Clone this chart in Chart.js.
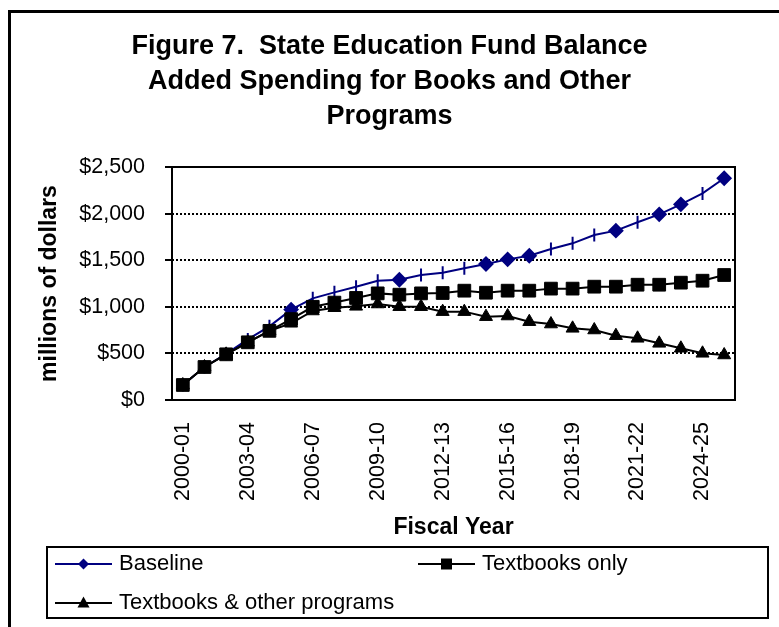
<!DOCTYPE html>
<html lang="en">
  <head>
    <meta charset="UTF-8" />
    <script src="https://cdn.jsdelivr.net/npm/chart.js@4.4.0/dist/chart.umd.min.js"></script>
    <title>Figure 7</title>
    <style>
      body { margin: 0; background: #fff; overflow: hidden; }
      #frame { position: absolute; left: 8px; top: 10px; width: 900px; height: 800px;
               border: 3px solid #000; }
      #c { position: absolute; left: 0; top: 0; }
    </style>
  </head>
  <body>
    <div id="frame"></div>
    <canvas id="c" width="779" height="627"></canvas>

    <script>
      // data (millions of dollars)
      var fiscalYears = [
        "2000-01", "2001-02", "2002-03", "2003-04", "2004-05", "2005-06", "2006-07",
        "2007-08", "2008-09", "2009-10", "2010-11", "2011-12", "2012-13", "2013-14",
        "2014-15", "2015-16", "2016-17", "2017-18", "2018-19", "2019-20", "2020-21",
        "2021-22", "2022-23", "2023-24", "2024-25", "2025-26"
      ];
      var baseline = [161, 354, 495, 650, 790, 970, 1091, 1155, 1216, 1280, 1290, 1341, 1365,
        1413, 1459, 1509, 1548, 1620, 1681, 1770, 1817, 1907, 1992, 2099, 2217, 2379];
      var textbooksOnly = [161, 354, 490, 619, 742, 868, 1000, 1045, 1095, 1144, 1130, 1144, 1148,
        1173, 1151, 1173, 1173, 1195, 1195, 1216, 1216, 1237, 1237, 1259, 1280, 1341];
      var textbooksOther = [161, 354, 490, 619, 742, 823, 955, 990, 1005, 1030, 1001, 1001, 948,
        948, 894, 901, 840, 815, 769, 751, 690, 662, 608, 555, 501, 483];
      var yTicks = [0, 500, 1000, 1500, 2000, 2500];
      var labelEvery = 3;

      // baseline markers: diamonds on some years, a small tick on the rest
      var diamondAt = [5, 10, 14, 15, 16, 20, 22, 23, 25];
      var baseStyle = fiscalYears.map(function (y, i) { return diamondAt.indexOf(i) >= 0 ? "rectRot" : "line"; });
      var baseRot = fiscalYears.map(function (y, i) { return diamondAt.indexOf(i) >= 0 ? 0 : 90; });

      Chart.defaults.font.family = "Arial, 'Liberation Sans', sans-serif";
      Chart.defaults.color = "#000";

      var plotBox = {
        id: "plotBox",
        beforeDatasetsDraw: function (chart) {
          var a = chart.chartArea, ctx = chart.ctx;
          ctx.save();
          ctx.strokeStyle = "#000";
          ctx.lineWidth = 2;
          ctx.strokeRect(a.left, a.top, a.right - a.left, a.bottom - a.top);
          ctx.restore();
        }
      };

      // legend drawn by hand: line + marker + name, two per row, framed
      var legendSlots = [[55, 564], [418, 564], [55, 603]];
      function mark(ctx, kind, x, y) {
        ctx.beginPath();
        if (kind == "diamond") {
          ctx.moveTo(x, y - 5.5); ctx.lineTo(x + 5.5, y); ctx.lineTo(x, y + 5.5); ctx.lineTo(x - 5.5, y);
        } else if (kind == "square") {
          ctx.rect(x - 5.5, y - 5.5, 11, 11);
        } else {
          ctx.moveTo(x, y - 6.5); ctx.lineTo(x + 6, y + 4.5); ctx.lineTo(x - 6, y + 4.5);
        }
        ctx.closePath();
        ctx.fill();
      }
      var boxLegend = {
        id: "boxLegend",
        afterDraw: function (chart) {
          var ctx = chart.ctx;
          ctx.save();
          ctx.strokeStyle = "#000";
          ctx.lineWidth = 2;
          ctx.strokeRect(47, 547, 721, 71);
          chart.data.datasets.forEach(function (ds, i) {
            var x = legendSlots[i][0], y = legendSlots[i][1];
            ctx.strokeStyle = ds.borderColor;
            ctx.fillStyle = ds.borderColor;
            ctx.lineWidth = 2;
            ctx.beginPath();
            ctx.moveTo(x, y); ctx.lineTo(x + 57, y);
            ctx.stroke();
            mark(ctx, ds.legendMark, x + 28.5, y);
            ctx.fillStyle = "#000";
            ctx.font = "22px Arial, 'Liberation Sans', sans-serif";
            ctx.textBaseline = "middle";
            ctx.fillText(ds.label, x + 64, y);
          });
          ctx.restore();
        }
      };

      new Chart("c", {
        type: "line",
        data: {
          labels: fiscalYears,
          datasets: [
            {
              label: "Baseline",
              legendMark: "diamond",
              data: baseline,
              borderColor: "#000080",
              backgroundColor: "#000080",
              borderWidth: 2,
              pointStyle: baseStyle,
              pointRotation: baseRot,
              pointRadius: 6.5,
              pointBorderWidth: 2,
              order: 2
            },
            {
              label: "Textbooks only",
              legendMark: "square",
              data: textbooksOnly,
              borderColor: "#000",
              backgroundColor: "#000",
              borderWidth: 2,
              pointStyle: "rect",
              pointRadius: 9,
              pointBorderWidth: 1,
              order: 0
            },
            {
              label: "Textbooks & other programs",
              legendMark: "triangle",
              data: textbooksOther,
              borderColor: "#000",
              backgroundColor: "#000",
              borderWidth: 2,
              pointStyle: "triangle",
              pointRadius: 7.5,
              pointBorderWidth: 1,
              order: 1
            }
          ]
        },
        options: {
          responsive: false,
          animation: false,
          layout: { padding: { left: 0, right: 0, top: 0, bottom: 80 } },
          plugins: {
            legend: { display: false },
            tooltip: { enabled: false },
            title: {
              display: true,
              text: ["Figure 7.  State Education Fund Balance",
                     "Added Spending for Books and Other", "Programs"],
              font: { size: 27, weight: "bold", lineHeight: 35 / 27 },
              color: "#000",
              padding: { top: 29.5, bottom: 32.5 }
            }
          },
          scales: {
            x: {
              offset: true,
              grid: { display: false, drawTicks: false },
              border: { display: false },
              ticks: {
                autoSkip: false,
                minRotation: 90,
                maxRotation: 90,
                padding: 22,
                font: { size: 21.5 },
                callback: function (v, i) { return i % labelEvery == 0 ? fiscalYears[i] : ""; }
              },
              title: {
                display: true,
                text: "Fiscal Year",
                font: { size: 23, weight: "bold" },
                padding: { top: 0, bottom: 6 }
              },
              afterFit: function (s) { s.height = 147; }
            },
            y: {
              min: 0,
              max: 2500,
              afterBuildTicks: function (s) { s.ticks = yTicks.map(function (v) { return { value: v }; }); },
              grid: {
                color: "#000",
                lineWidth: 2,
                drawTicks: true,
                tickLength: 7,
                tickWidth: 2,
                tickColor: "#000",
                tickBorderDash: []
              },
              border: { display: false, dash: [2, 2] },
              ticks: {
                padding: 20,
                font: { size: 21.5 },
                callback: function (v) { return "$" + v.toLocaleString("en-US"); }
              },
              title: {
                display: true,
                text: "millions of dollars",
                font: { size: 23, weight: "bold" },
                padding: { top: 36, bottom: 0 }
              },
              afterFit: function (s) { s.width = 172; }
            },
            // empty right-hand strip so the plot stops where it does in the figure
            yRight: {
              position: "right",
              grid: { display: false },
              border: { display: false },
              ticks: { display: false },
              afterFit: function (s) { s.width = 44; }
            }
          }
        },
        plugins: [plotBox, boxLegend]
      });
    </script>
  </body>
</html>
